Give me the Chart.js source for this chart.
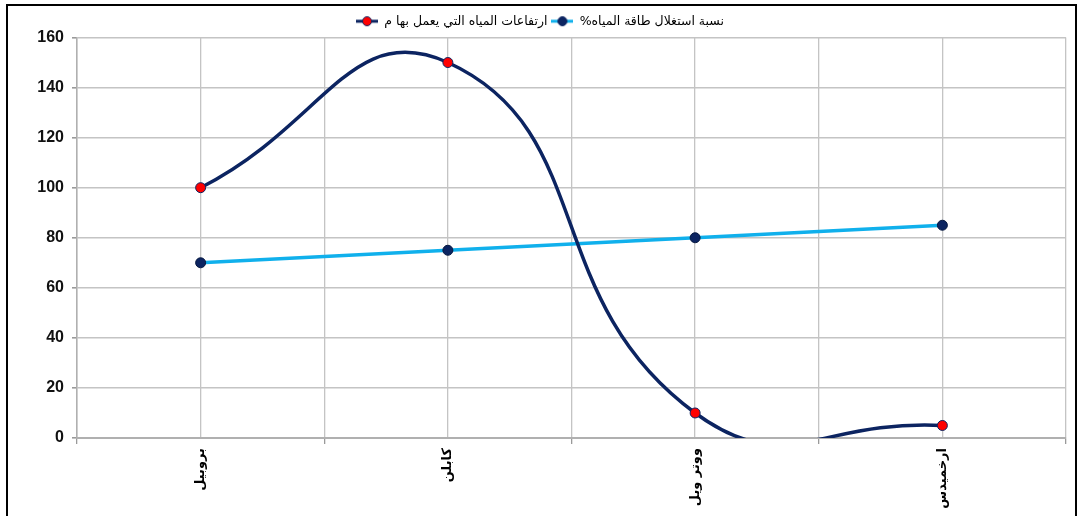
<!DOCTYPE html>
<html lang="ar">
<head>
<meta charset="utf-8">
<script src="https://cdn.jsdelivr.net/npm/chart.js@4.4.1/dist/chart.umd.min.js"></script>
<style>
  html, body { margin: 0; padding: 0; background: #fff; }
  #wrap { position: relative; width: 1078px; height: 516px; overflow: hidden; }
  #frame { position: absolute; left: 6px; top: 4px; width: 1067px; height: 600px; border: 2px solid #000; pointer-events: none; }
  #myChart { position: absolute; left: 0; top: 0; }
</style>
</head>
<body>
<div id="wrap">
  <canvas id="myChart" width="1078" height="516"></canvas>
  <div id="frame"></div>
</div>
<script>
// categories (x axis)
var categorias = ["بروبيل", "كابلن", "ووتر ويل", "ارخميدس"];
// series
var nombreAlturas = "ارتفاعات المياه التي يعمل بها م";
var alturas = [100, 150, 10, 5];
var nombrePorcentaje = "نسبة استغلال طاقة المياه%";
var porcentaje = [70, 75, 80, 85];
// y ticks
var yMin = 0;
var yMax = 160;
var yPaso = 20;

var colorNavy = "#0c2461";
var colorAzul = "#10b0ec";
var colorRojo = "#ff0000";
var colorGrid = "#c4c4c4";

/* marcador de leyenda: linea + punto */
function marcadorLeyenda(lineColor, dotFill, dotStroke) {
	var c = document.createElement("canvas");
	c.width = 22;
	c.height = 12;
	var ctx = c.getContext("2d");
	ctx.strokeStyle = lineColor;
	ctx.lineWidth = 3;
	ctx.beginPath();
	ctx.moveTo(0, 6);
	ctx.lineTo(22, 6);
	ctx.stroke();
	ctx.fillStyle = dotFill;
	ctx.strokeStyle = dotStroke;
	ctx.lineWidth = 1;
	ctx.beginPath();
	ctx.arc(11, 6, 4.5, 0, Math.PI * 2);
	ctx.fill();
	ctx.stroke();
	return c;
}

var marcadores = [
	marcadorLeyenda(colorNavy, colorRojo, colorNavy),
	marcadorLeyenda(colorAzul, colorNavy, colorNavy)
];

var datos = {
	labels: categorias,
	datasets: [
		{
			label: nombreAlturas,
			data: alturas,
			borderColor: colorNavy,
			borderWidth: 3.5,
			pointBackgroundColor: colorRojo,
			pointBorderColor: colorNavy,
			pointBorderWidth: 1,
			pointRadius: 5,
			tension: 0.5,
			capBezierPoints: false,
			clip: 0,
			fill: false
		},
		{
			label: nombrePorcentaje,
			data: porcentaje,
			borderColor: colorAzul,
			borderWidth: 3.5,
			pointBackgroundColor: colorNavy,
			pointBorderColor: "#061840",
			pointBorderWidth: 1,
			pointRadius: 5,
			tension: 0.5,
			capBezierPoints: false,
			clip: 0,
			fill: false
		}
	]
};

var opciones = {
	responsive: false,
	animation: false,
	devicePixelRatio: 1,
	layout: { padding: { left: 14, right: 12, top: 11, bottom: 0 } },
	elements: { line: { capBezierPoints: false } },
	plugins: {
		tooltip: { enabled: false },
		legend: {
			display: true,
			position: "top",
			textDirection: "rtl",
			labels: {
				usePointStyle: true,
				pointStyleWidth: 22,
				boxHeight: 12,
				padding: 4,
				color: "#000",
				font: { family: "'DejaVu Sans'", size: 12.5 },
				generateLabels: function(chart) {
					return chart.data.datasets.map(function(ds, i) {
						return {
							text: ds.label,
							pointStyle: marcadores[i],
							fillStyle: ds.borderColor,
							strokeStyle: ds.borderColor,
							lineWidth: 0,
							hidden: false,
							datasetIndex: i,
							fontColor: "#000"
						};
					});
				}
			}
		}
	},
	scales: {
		x: {
			type: "category",
			offset: true,
			grid: {
				offset: true,
				color: colorGrid,
				lineWidth: 1.3,
				tickLength: 6,
				tickColor: "#9a9a9a"
			},
			border: { color: "#b0b0b0", width: 2 },
			ticks: {
				autoSkip: false,
				minRotation: 90,
				maxRotation: 90,
				padding: 4,
				color: "#000",
				font: { family: "'DejaVu Sans'", size: 13, weight: "bold" }
			},
			afterFit: function(scale) { scale.height = 78; }
		},
		xc: {
			type: "category",
			position: "bottom",
			offset: true,
			labels: categorias,
			grid: { offset: false, color: colorGrid, lineWidth: 1.3, drawTicks: false },
			border: { display: false },
			ticks: { display: false },
			afterFit: function(scale) { scale.height = 0; }
		},
		y: {
			min: yMin,
			max: yMax,
			ticks: {
				stepSize: yPaso,
				padding: 8,
				color: "#111",
				font: { family: "'Liberation Sans'", size: 16, weight: "bold" }
			},
			grid: {
				color: colorGrid,
				lineWidth: 1.6,
				tickLength: 5,
				tickColor: "#9a9a9a"
			},
			border: { color: "#b0b0b0", width: 1.5 },
			afterFit: function(scale) { scale.width = 63; }
		}
	}
};

var chart = new Chart(document.getElementById("myChart").getContext("2d"), {
	type: "line",
	data: datos,
	options: opciones
});
</script>
</body>
</html>
